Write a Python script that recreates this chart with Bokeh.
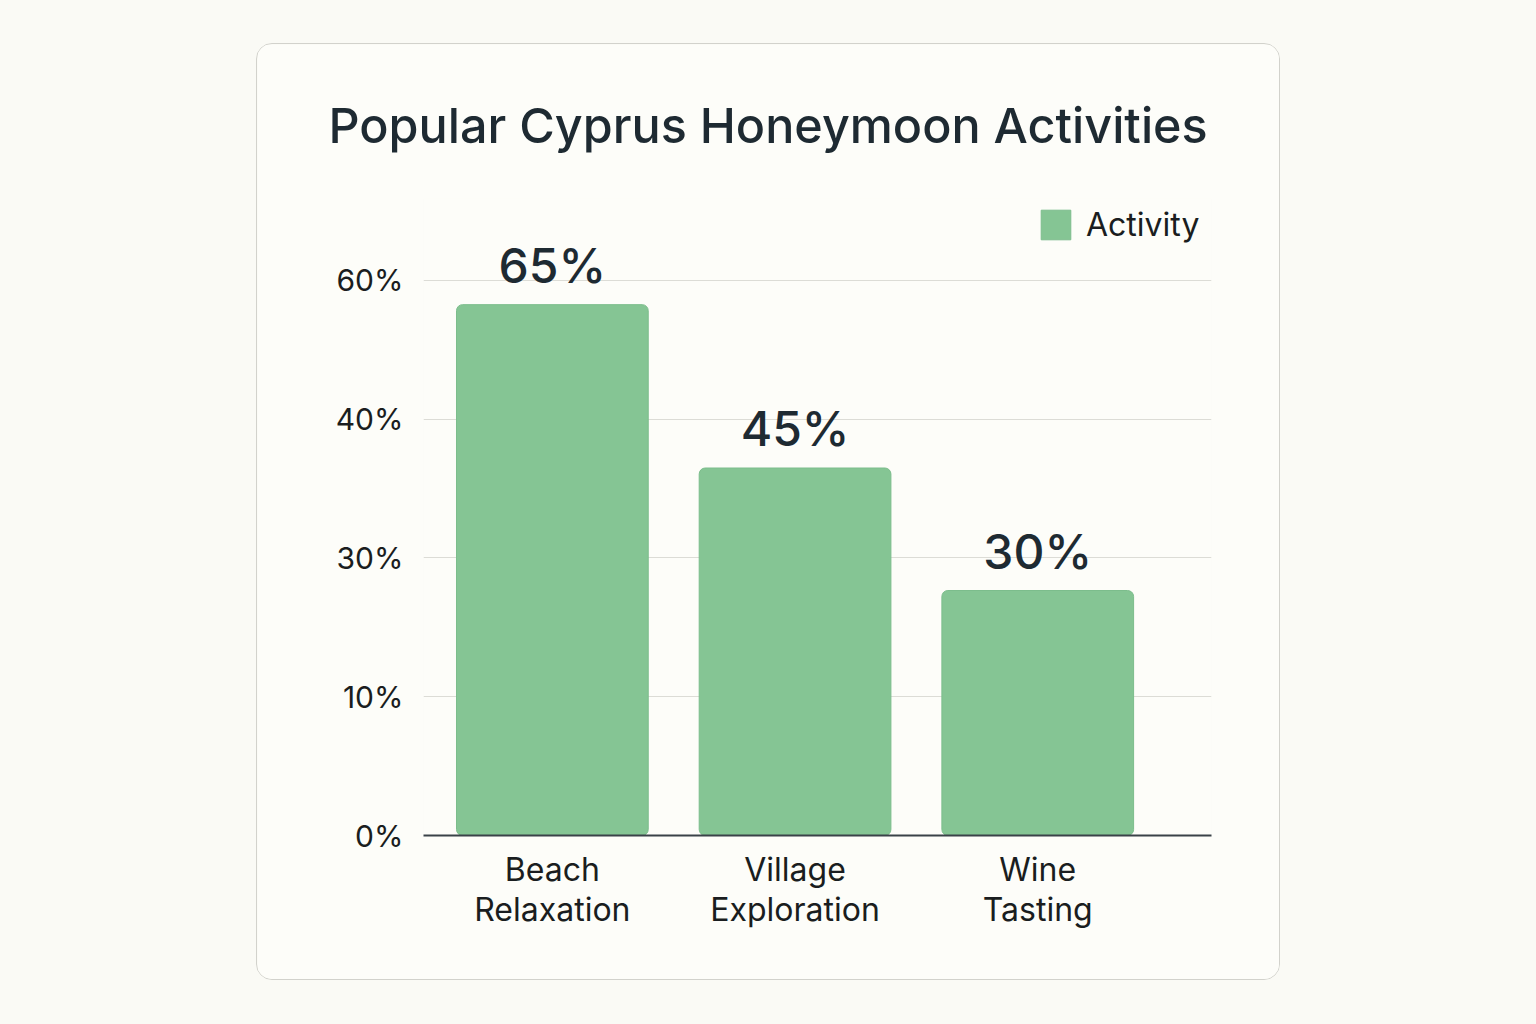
from bokeh.plotting import figure
from bokeh.models import Range1d, FixedTicker, Legend, LegendItem
from bokeh.core.properties import value
from bokeh.embed import file_html
from bokeh.resources import INLINE

# ---- data ----
categories = ["Beach\nRelaxation", "Village\nExploration", "Wine\nTasting"]
percentages = [65, 45, 30]
value_labels = ["65%", "45%", "30%"]
y_tick_labels = ["0%", "10%", "30%", "40%", "60%"]
series_name = "Activity"
title_text = "Popular Cyprus Honeymoon Activities"

# ---- style ----
FONT = "Inter"
FONT_MED = "Inter Medium, Inter"
BAR = "#85c594"
PAGE_BG = "#fafaf5"
CARD_BG = "#fdfdf9"
DARK = "#1e2a32"
TICK_STEP = 17

xs = list(range(len(categories)))
ticks = [i * TICK_STEP for i in range(len(y_tick_labels))]

p = figure(
    width=1024, height=937,
    x_range=Range1d(-0.531, len(categories) - 1 + 0.716),
    y_range=Range1d(0, 78),
    output_backend="svg", toolbar_location=None,
    background_fill_color=CARD_BG, border_fill_color=CARD_BG,
    outline_line_color=None,
    min_border_left=166, min_border_right=70,
    min_border_bottom=146, min_border_top=154,
)
p.margin = (43, 0, 0, 256)
p.styles = {"border": "1.5px solid #d2d2cc", "border-radius": "16px", "overflow": "hidden"}

p.title.text = title_text
p.title.text_font = FONT_MED
p.title.text_font_size = "48.5px"
p.title.text_font_style = "normal"
p.title.text_color = DARK
p.title.align = "left"
p.title.offset = -95
p.title.standoff = 88

bars = p.vbar(x=xs, top=percentages, width=0.79, fill_color=BAR,
              line_color="#7cbd8c", line_width=1, border_radius=6)

p.text(x=xs, y=percentages, text=value_labels, text_font=value(FONT_MED),
       text_font_size="48px", text_font_style="normal", text_color=DARK,
       text_align="center", text_baseline="bottom", y_offset=-10)

# axes
p.xaxis.ticker = FixedTicker(ticks=xs)
p.xaxis.major_label_overrides = {i: c for i, c in zip(xs, categories)}
p.xaxis.major_label_text_font = FONT
p.xaxis.major_label_text_font_size = "32px"
p.xaxis.major_label_text_color = "#1a1d20"
p.xaxis.major_label_text_line_height = 1.05
p.xaxis.major_label_standoff = 8
p.xaxis.axis_line_color = "#3a4248"
p.xaxis.axis_line_width = 2
p.xaxis.major_tick_line_color = None
p.xaxis.minor_tick_line_color = None

p.yaxis.ticker = FixedTicker(ticks=ticks)
p.yaxis.major_label_overrides = {t: l for t, l in zip(ticks, y_tick_labels)}
p.yaxis.major_label_text_font = FONT
p.yaxis.major_label_text_font_size = "30px"
p.yaxis.major_label_text_color = "#1a1d20"
p.yaxis.major_label_standoff = 14
p.yaxis.axis_line_color = None
p.yaxis.major_tick_line_color = None
p.yaxis.minor_tick_line_color = None

p.xgrid.grid_line_color = None
p.ygrid.ticker = FixedTicker(ticks=ticks)
p.ygrid.grid_line_color = "#dcdcd6"
p.ygrid.grid_line_width = 1

legend = Legend(items=[LegendItem(label=series_name, renderers=[bars])],
                location=(614, 591), orientation="horizontal",
                glyph_width=37, glyph_height=37, label_standoff=12,
                label_text_font=FONT, label_text_font_size="32px",
                label_text_color="#1a1d20", padding=0, margin=0,
                border_line_color=None, background_fill_alpha=0)
p.add_layout(legend)

html = file_html(p, INLINE)
html = html.replace("</head>", "<style>html, body { background-color: %s; }</style>\n</head>" % PAGE_BG, 1)
open("out.html", "w").write(html)
